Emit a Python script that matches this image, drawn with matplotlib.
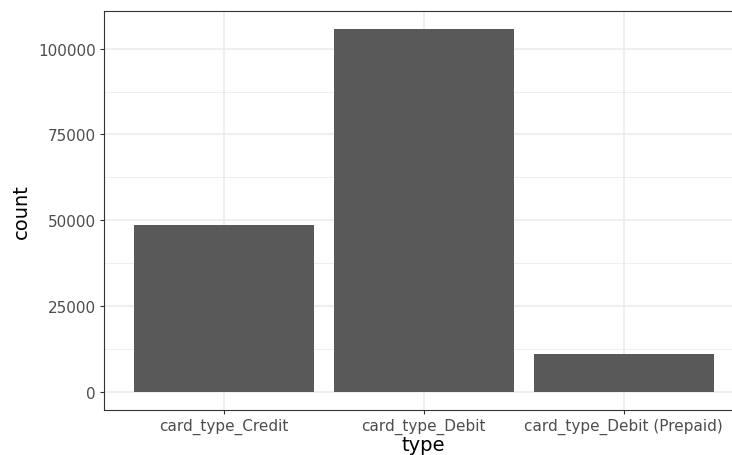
import numpy as np
import matplotlib.pyplot as plt
from matplotlib.ticker import MultipleLocator

# bar chart of card type counts (theme_bw look)
card_types = ["card_type_Credit", "card_type_Debit", "card_type_Debit (Prepaid)"]
counts = [48600, 105700, 11050]

fig = plt.figure(figsize=(7.32, 4.56), dpi=100)
ax = fig.add_axes([103.7 / 732, (456 - 410.7) / 456, 640 / 732, (410.7 - 12) / 456])

x = np.arange(len(card_types))
ax.bar(x, counts, width=0.9, color="#595959", zorder=3)

top = max(counts)
ax.set_xlim(-0.6, len(card_types) - 0.4)
ax.set_ylim(-0.05 * top, 1.05 * top)

ax.set_xticks(x)
ax.set_xticklabels(card_types)
ax.yaxis.set_major_locator(MultipleLocator(25000))
ax.yaxis.set_minor_locator(MultipleLocator(12500))

ax.grid(which="major", color="#EBEBEB", linewidth=1.1, zorder=0)
ax.grid(which="minor", axis="y", color="#EBEBEB", linewidth=0.55, zorder=0)
ax.set_axisbelow(True)

for s in ax.spines.values():
    s.set_color("#333333")
    s.set_linewidth(0.8)

ax.tick_params(axis="both", which="major", length=3, width=0.8, color="#333333",
               labelsize=11, labelcolor="#4D4D4D", pad=2.5)
ax.tick_params(axis="both", which="minor", length=0)

ax.set_xlabel("type", fontsize=14, color="black", labelpad=1)
ax.set_ylabel("count", fontsize=14, color="black", labelpad=5)

fig.savefig("out.png", dpi=100)
